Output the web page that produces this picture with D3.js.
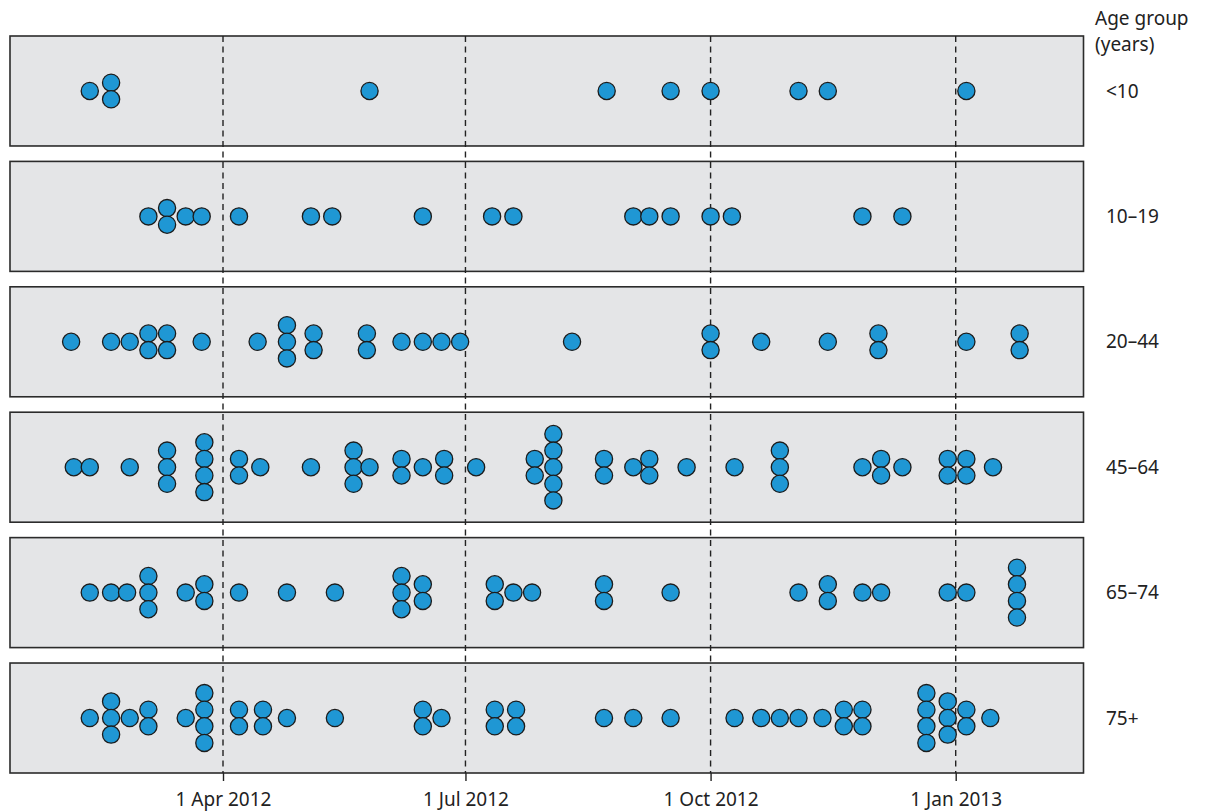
<!DOCTYPE html>
<html>
<head>
<meta charset="utf-8">
<script src="https://cdn.jsdelivr.net/npm/d3@7"></script>
<style>
  html, body { margin: 0; padding: 0; background: #fff; }
  svg { display: block; }
  text { font-family: "Noto Sans", "DejaVu Sans", sans-serif; fill: #222; }
</style>
</head>
<body>
<svg id="chart" width="1207" height="812"></svg>
<script>
// Age groups (top to bottom)
const ageGroups = ["<10", "10–19", "20–44", "45–64", "65–74", "75+"];

// Cases per onset date for each age group: [date, number of cases]
const casesUnder10 = [
  ["2012-02-11", 1], ["2012-02-19", 2], ["2012-05-26", 1], ["2012-08-23", 1],
  ["2012-09-16", 1], ["2012-10-01", 1], ["2012-11-03", 1], ["2012-11-14", 1],
  ["2013-01-05", 1]
];
const cases10to19 = [
  ["2012-03-04", 1], ["2012-03-11", 2], ["2012-03-18", 1], ["2012-03-24", 1],
  ["2012-04-07", 1], ["2012-05-04", 1], ["2012-05-12", 1], ["2012-06-15", 1],
  ["2012-07-11", 1], ["2012-07-19", 1], ["2012-09-02", 1], ["2012-09-08", 1],
  ["2012-09-16", 1], ["2012-10-01", 1], ["2012-10-09", 1], ["2012-11-27", 1],
  ["2012-12-12", 1]
];
const cases20to44 = [
  ["2012-02-04", 1], ["2012-02-19", 1], ["2012-02-26", 1], ["2012-03-04", 2],
  ["2012-03-11", 2], ["2012-03-24", 1], ["2012-04-14", 1], ["2012-04-25", 3],
  ["2012-05-05", 2], ["2012-05-25", 2], ["2012-06-07", 1], ["2012-06-15", 1],
  ["2012-06-22", 1], ["2012-06-29", 1], ["2012-08-10", 1], ["2012-10-01", 2],
  ["2012-10-20", 1], ["2012-11-14", 1], ["2012-12-03", 2], ["2013-01-05", 1],
  ["2013-01-25", 2]
];
const cases45to64 = [
  ["2012-02-05", 1], ["2012-02-11", 1], ["2012-02-26", 1], ["2012-03-11", 3],
  ["2012-03-25", 4], ["2012-04-07", 2], ["2012-04-15", 1], ["2012-05-04", 1],
  ["2012-05-20", 3], ["2012-05-26", 1], ["2012-06-07", 2], ["2012-06-15", 1],
  ["2012-06-23", 2], ["2012-07-05", 1], ["2012-07-27", 2], ["2012-08-03", 5],
  ["2012-08-22", 2], ["2012-09-02", 1], ["2012-09-08", 2], ["2012-09-22", 1],
  ["2012-10-10", 1], ["2012-10-27", 3], ["2012-11-27", 1], ["2012-12-04", 2],
  ["2012-12-12", 1], ["2012-12-29", 2], ["2013-01-05", 2], ["2013-01-15", 1]
];
const cases65to74 = [
  ["2012-02-11", 1], ["2012-02-19", 1], ["2012-02-25", 1], ["2012-03-04", 3],
  ["2012-03-18", 1], ["2012-03-25", 2], ["2012-04-07", 1], ["2012-04-25", 1],
  ["2012-05-13", 1], ["2012-06-07", 3], ["2012-06-15", 2], ["2012-07-12", 2],
  ["2012-07-19", 1], ["2012-07-26", 1], ["2012-08-22", 2], ["2012-09-16", 1],
  ["2012-11-03", 1], ["2012-11-14", 2], ["2012-11-27", 1], ["2012-12-04", 1],
  ["2012-12-29", 1], ["2013-01-05", 1], ["2013-01-24", 4]
];
const cases75plus = [
  ["2012-02-11", 1], ["2012-02-19", 3], ["2012-02-26", 1], ["2012-03-04", 2],
  ["2012-03-18", 1], ["2012-03-25", 4], ["2012-04-07", 2], ["2012-04-16", 2],
  ["2012-04-25", 1], ["2012-05-13", 1], ["2012-06-15", 2], ["2012-06-22", 1],
  ["2012-07-12", 2], ["2012-07-20", 2], ["2012-08-22", 1], ["2012-09-02", 1],
  ["2012-09-16", 1], ["2012-10-10", 1], ["2012-10-20", 1], ["2012-10-27", 1],
  ["2012-11-03", 1], ["2012-11-12", 1], ["2012-11-20", 2], ["2012-11-27", 2],
  ["2012-12-21", 4], ["2012-12-29", 3], ["2013-01-05", 2], ["2013-01-14", 1]
];

const seriesByGroup = [casesUnder10, cases10to19, cases20to44, cases45to64, cases65to74, cases75plus];

// Quarter boundaries marked with dashed lines and axis ticks
const tickDates = ["2012-04-01", "2012-07-01", "2012-10-01", "2013-01-01"];

const parse = d3.timeParse("%Y-%m-%d");

const svg = d3.select("#chart");
const plot = { left: 10, right: 1083.5, top: 36, bottom: 773 };

// Time scale anchored on the first and last quarter boundaries
const x = d3.scaleTime()
  .domain([parse("2012-04-01"), parse("2013-01-01")])
  .range([223, 955.7]);

const y = d3.scaleBand()
  .domain(ageGroups)
  .range([plot.top, plot.bottom])
  .paddingInner(0.123);

const dotR = 8.6;
const stackStep = 16.6;

// Panels
svg.append("g").selectAll("rect")
  .data(ageGroups)
  .join("rect")
  .attr("x", plot.left)
  .attr("y", d => y(d))
  .attr("width", plot.right - plot.left)
  .attr("height", y.bandwidth())
  .attr("fill", "#e4e5e7")
  .attr("stroke", "#2b2b2b")
  .attr("stroke-width", 1.6);

// Dashed reference lines
svg.append("g").selectAll("line")
  .data(tickDates.map(parse))
  .join("line")
  .attr("x1", d => x(d)).attr("x2", d => x(d))
  .attr("y1", plot.top).attr("y2", plot.bottom)
  .attr("stroke", "#222")
  .attr("stroke-width", 1.4)
  .attr("stroke-dasharray", "6,4.5");

// Dots, stacked vertically when several cases share a date
const dots = [];
seriesByGroup.forEach((series, gi) => {
  const cy = y(ageGroups[gi]) + y.bandwidth() / 2;
  series.forEach(([date, n]) => {
    for (let i = 0; i < n; i++) {
      dots.push({ x: x(parse(date)), y: cy + (i - (n - 1) / 2) * stackStep });
    }
  });
});

svg.append("g").selectAll("circle")
  .data(dots)
  .join("circle")
  .attr("cx", d => d.x)
  .attr("cy", d => d.y)
  .attr("r", dotR)
  .attr("fill", "#1f97d4")
  .attr("stroke", "#1c1c1c")
  .attr("stroke-width", 1.3);

// Bottom axis
const axis = d3.axisBottom(x)
  .tickValues(tickDates.map(parse))
  .tickFormat(d3.timeFormat("%-d %b %Y"))
  .tickSize(8)
  .tickSizeOuter(0);

const axisG = svg.append("g")
  .attr("transform", `translate(0,${plot.bottom})`)
  .call(axis);
axisG.select(".domain").remove();
axisG.selectAll(".tick line").attr("stroke", "#222").attr("stroke-width", 1.4);
axisG.selectAll(".tick text")
  .attr("dy", 0)
  .attr("y", 33)
  .style("font-family", "'Noto Sans', sans-serif")
  .style("font-size", "19px")
  .attr("fill", "#222");

// Row labels
svg.append("g").selectAll("text")
  .data(ageGroups)
  .join("text")
  .attr("x", 1106)
  .attr("y", d => y(d) + y.bandwidth() / 2)
  .attr("dy", "0.35em")
  .style("font-size", "19px")
  .text(d => d);

// Legend title, two lines
svg.append("text")
  .attr("x", 1095)
  .attr("y", 25)
  .style("font-size", "19px")
  .text("Age group");
svg.append("text")
  .attr("x", 1095)
  .attr("y", 51)
  .style("font-size", "19px")
  .text("(years)");
</script>
</body>
</html>
